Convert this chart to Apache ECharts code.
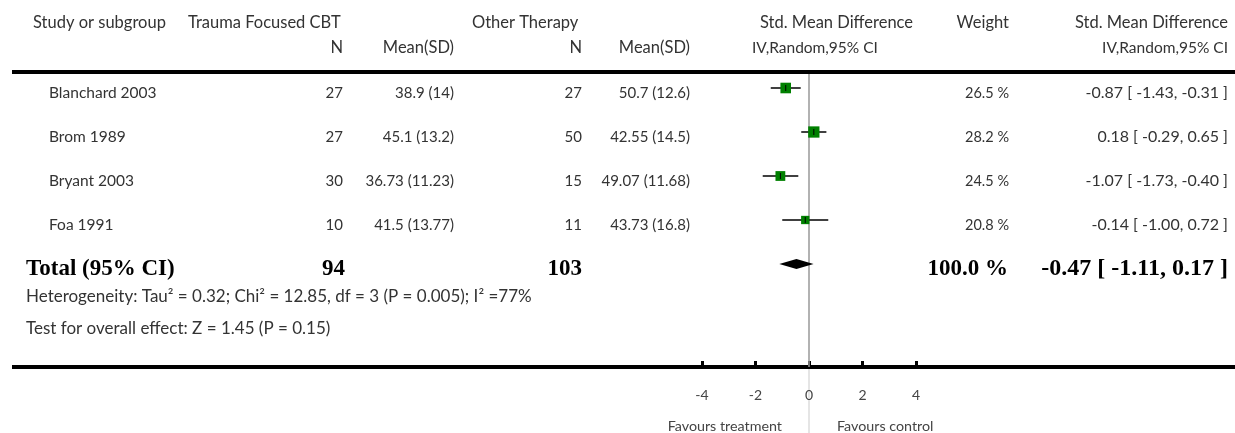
<!DOCTYPE html>
<html>
<head>
<meta charset="utf-8">
<script src="https://cdn.jsdelivr.net/npm/echarts@6/dist/echarts.min.js"></script>
<style>
html,body{margin:0;padding:0;background:#fff;}
#chart{width:1235px;height:433px;}
</style>
</head>
<body>
<div id="chart"></div>
<script>
// ---- data ----
const studies = ['Blanchard 2003', 'Brom 1989', 'Bryant 2003', 'Foa 1991'];
const treatN = [27, 27, 30, 10];
const treatMeanSD = ['38.9 (14)', '45.1 (13.2)', '36.73 (11.23)', '41.5 (13.77)'];
const ctrlN = [27, 50, 15, 11];
const ctrlMeanSD = ['50.7 (12.6)', '42.55 (14.5)', '49.07 (11.68)', '43.73 (16.8)'];
const smd = [-0.87, 0.18, -1.07, -0.14];
const ciLow = [-1.43, -0.29, -1.73, -1.00];
const ciHigh = [-0.31, 0.65, -0.40, 0.72];
const weights = [26.5, 28.2, 24.5, 20.8];
const totalTreatN = 94;
const totalCtrlN = 103;
const totalWeight = 100.0;
const totalSmd = -0.47;
const totalLow = -1.11;
const totalHigh = 0.17;
const xTicks = [-4, -2, 0, 2, 4];
const heterogeneityText = 'Heterogeneity: Tau² = 0.32; Chi² = 12.85, df = 3 (P = 0.005); I² =77%';
const overallText = 'Test for overall effect: Z = 1.45 (P = 0.15)';

// ---- chart ----
const chart = echarts.init(document.getElementById('chart'), null, {renderer: 'canvas'});
const SANS = 'Lato, "Open Sans", sans-serif';
const SERIF = '"Liberation Serif", "DejaVu Serif", serif';
const TXT = '#333';
const totalRow = studies.length;

const studyData = studies.map((s, i) => [smd[i], i, ciLow[i], ciHigh[i], weights[i]]);

const option = {
  animation: false,
  grid: {left: 702, width: 214, top: 0, height: 367},
  xAxis: {
    type: 'value', min: xTicks[0], max: xTicks[xTicks.length - 1], interval: 2,
    axisLine: {show: false, onZero: false},
    axisTick: {show: true, inside: true, length: 6, lineStyle: {color: '#000', width: 3}},
    axisLabel: {margin: 21, color: '#444', fontFamily: SANS, fontSize: 14,
      formatter: v => xTicks.includes(v) ? String(v) : ''},
    splitLine: {show: false}
  },
  yAxis: {type: 'value', min: -2, max: 6.341, inverse: true, show: false},
  series: [
    {
      type: 'line', data: [[0, -0.32], [0, 6.341]], symbol: 'none', z: 1,
      lineStyle: {color: '#999', width: 1.5}, silent: true
    },
    {
      type: 'custom', z: 3, data: studyData,
      renderItem: (params, api) => {
        const y = api.value(1);
        const c = api.coord([api.value(0), y]);
        const l = api.coord([api.value(2), y]);
        const h = api.coord([api.value(3), y]);
        const s = api.value(4) * 0.4;
        return {type: 'group', children: [
          {type: 'line', shape: {x1: l[0], y1: c[1], x2: h[0], y2: c[1]},
           style: {stroke: '#000', lineWidth: 1.5}},
          {type: 'rect', shape: {x: c[0] - s / 2, y: c[1] - s / 2, width: s, height: s},
           style: {fill: '#008000'}},
          {type: 'line', shape: {x1: c[0], y1: c[1] - 3, x2: c[0], y2: c[1] + 3},
           style: {stroke: '#000', lineWidth: 1}}
        ]};
      }
    },
    {
      type: 'custom', z: 3, data: [[totalSmd, totalRow, totalLow, totalHigh]],
      renderItem: (params, api) => {
        const y = api.value(1);
        const c = api.coord([api.value(0), y]);
        const l = api.coord([api.value(2), y]);
        const h = api.coord([api.value(3), y]);
        return {type: 'polygon',
          shape: {points: [[l[0], c[1]], [c[0], c[1] - 5], [h[0], c[1]], [c[0], c[1] + 5]]},
          style: {fill: '#000'}};
      }
    }
  ]
};
chart.setOption(option);

// ---- table text & rules ----
function rowY(i) { return chart.convertToPixel({gridIndex: 0}, [0, i])[1]; }
function txt(x, y, t, align, size, opts) {
  opts = opts || {};
  return {type: 'text', x: x, y: y, silent: true,
    style: {text: t, fill: opts.fill || TXT, font: opts.font || (size + 'px ' + SANS),
      align: align || 'left', verticalAlign: 'middle'}};
}
const zeroX = chart.convertToPixel({gridIndex: 0}, [0, 0])[0];
const els = [];
const H = 16.5;
// header
els.push(txt(33, 23, 'Study or subgroup', 'left', H));
els.push(txt(188, 23, 'Trauma Focused CBT', 'left', H));
els.push(txt(472, 23, 'Other Therapy', 'left', H));
els.push(txt(760, 23, 'Std. Mean Difference', 'left', H));
els.push(txt(1009, 23, 'Weight', 'right', H));
els.push(txt(1228, 23, 'Std. Mean Difference', 'right', H));
els.push(txt(343, 48, 'N', 'right', H));
els.push(txt(454, 48, 'Mean(SD)', 'right', H));
els.push(txt(582, 48, 'N', 'right', H));
els.push(txt(690, 48, 'Mean(SD)', 'right', H));
els.push(txt(752, 48, 'IV,Random,95% CI', 'left', 15.5));
els.push(txt(1228, 48, 'IV,Random,95% CI', 'right', 15.5));
// rules
els.push({type: 'rect', shape: {x: 12, y: 70, width: 1223, height: 4}, style: {fill: '#000'}, silent: true});
els.push({type: 'rect', shape: {x: 12, y: 365, width: 1223, height: 4}, style: {fill: '#000'}, silent: true});
els.push({type: 'line', shape: {x1: zeroX, y1: 369, x2: zeroX, y2: 433}, style: {stroke: '#dddddd', lineWidth: 1.5}, silent: true});
// study rows
studies.forEach((s, i) => {
  const y = rowY(i) + 5;
  els.push(txt(49, y, s, 'left', 15.5));
  els.push(txt(343, y, String(treatN[i]), 'right', 15));
  els.push(txt(454, y, treatMeanSD[i], 'right', 15));
  els.push(txt(582, y, String(ctrlN[i]), 'right', 15));
  els.push(txt(690, y, ctrlMeanSD[i], 'right', 15));
  els.push(txt(1009, y, weights[i].toFixed(1) + ' %', 'right', 14.5));
  els.push(txt(1228, y, smd[i].toFixed(2) + ' [ ' + ciLow[i].toFixed(2) + ', ' + ciHigh[i].toFixed(2) + ' ]', 'right', 16));
});
// total row
const ty = rowY(totalRow) + 5;
const BOLD = 'bold 23px ' + SERIF;
els.push(txt(26, ty, 'Total (95% CI)', 'left', 0, {font: BOLD, fill: '#000'}));
els.push(txt(345, ty, String(totalTreatN), 'right', 0, {font: BOLD, fill: '#000'}));
els.push(txt(582, ty, String(totalCtrlN), 'right', 0, {font: BOLD, fill: '#000'}));
els.push(txt(1008, ty, totalWeight.toFixed(1) + ' %', 'right', 0, {font: BOLD, fill: '#000'}));
els.push(txt(1228, ty, totalSmd.toFixed(2) + ' [ ' + totalLow.toFixed(2) + ', ' + totalHigh.toFixed(2) + ' ]', 'right', 0, {font: 'bold 24px ' + SERIF, fill: '#000'}));
els.push(txt(26, 297, heterogeneityText, 'left', 17));
els.push(txt(26, 329, overallText, 'left', 17));
// favours
els.push(txt(782, 426, 'Favours treatment', 'right', 14.3, {fill: '#444'}));
els.push(txt(837, 426, 'Favours control', 'left', 14.3, {fill: '#444'}));
chart.setOption({graphic: {elements: els}});
</script>
</body>
</html>
